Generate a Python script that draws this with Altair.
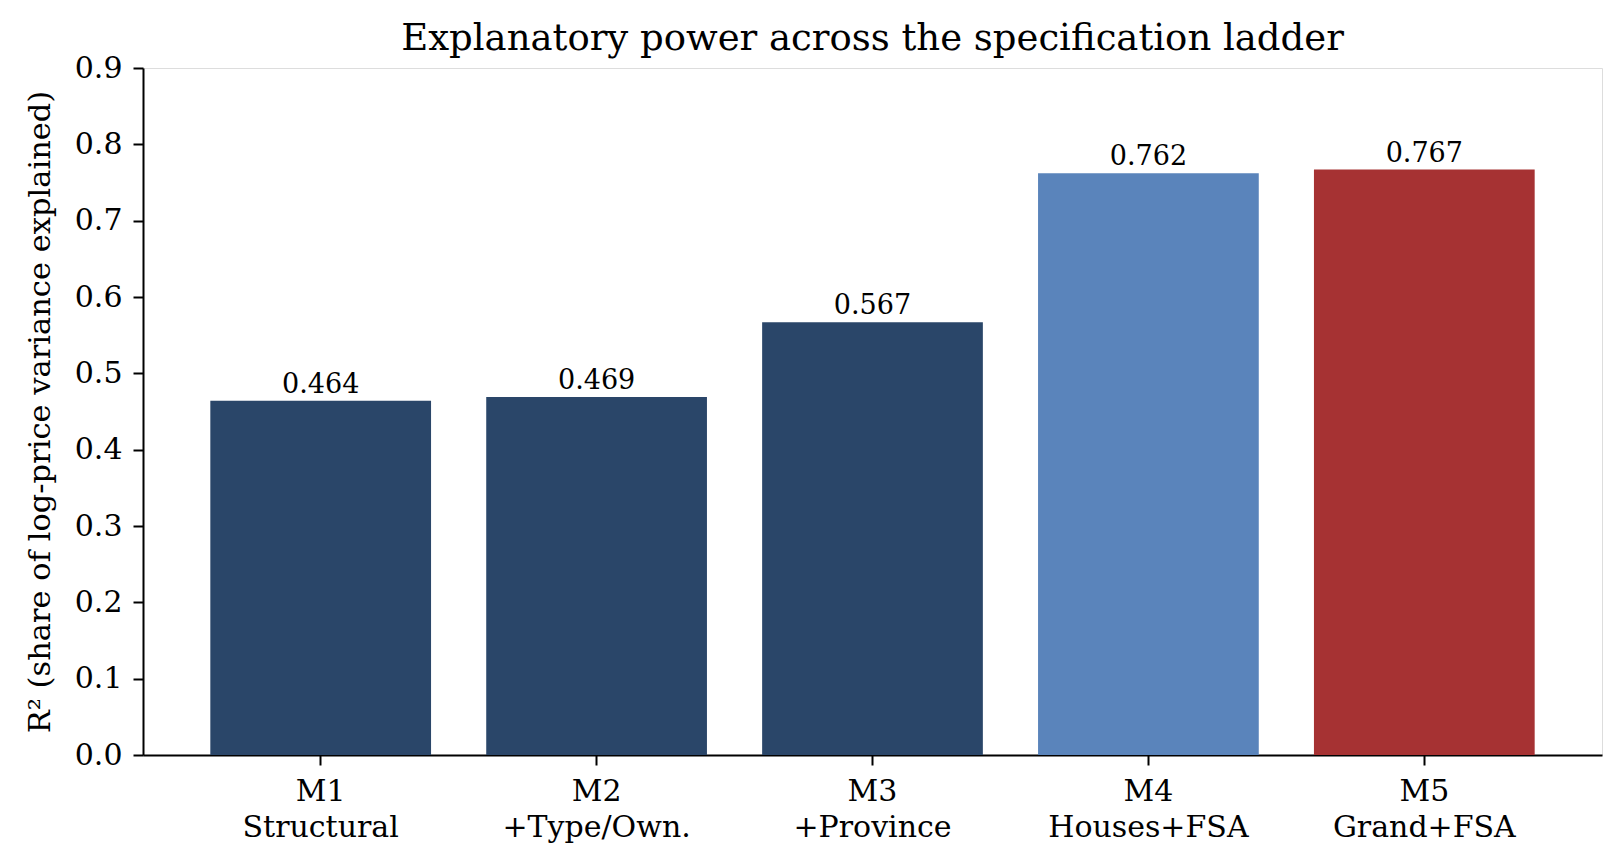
import altair as alt
import pandas as pd

title_text = "Explanatory power across the specification ladder"
models = ["M1\nStructural", "M2\n+Type/Own.", "M3\n+Province", "M4\nHouses+FSA", "M5\nGrand+FSA"]
r2 = [0.464, 0.469, 0.567, 0.762, 0.767]
colors = ["#2a4669", "#2a4669", "#2a4669", "#5a84bb", "#a63233"]
labels = ["0.464", "0.469", "0.567", "0.762", "0.767"]

df = pd.DataFrame({"model": models, "r2": r2, "color": colors, "label": labels})

FONT = "DejaVu Serif"
W, H = 1459, 687

x = alt.X(
    "model:N",
    sort=models,
    title=None,
    scale=alt.Scale(paddingInner=0.2, paddingOuter=0.244),
    axis=alt.Axis(
        labelExpr="split(datum.label, '\\n')",
        labelAngle=0,
        labelFontSize=30,
        labelFont=FONT,
        labelColor="black",
        labelLineHeight=36,
        labelPadding=11,
        labelBaseline="top",
        labelLimit=0,
        tickSize=10,
        tickWidth=2,
        tickColor="black",
        domainColor="black",
        domainWidth=2,
        grid=False,
    ),
)

y = alt.Y(
    "r2:Q",
    title="R² (share of log-price variance explained)",
    scale=alt.Scale(domain=[0, 0.9], nice=False),
    axis=alt.Axis(
        values=[0, 0.1, 0.2, 0.3, 0.4, 0.5, 0.6, 0.7, 0.8, 0.9],
        format=".1f",
        labelFontSize=30,
        labelFont=FONT,
        labelColor="black",
        labelPadding=11,
        tickSize=10,
        tickWidth=2,
        tickColor="black",
        domainColor="black",
        domainWidth=2,
        grid=False,
        titleFont=FONT,
        titleFontSize=30.5,
        titleFontWeight="normal",
        titleColor="black",
        titleAngle=-90,
        titleAlign="center",
        titleBaseline="middle",
        titleX=-103,
        titleY=H / 2,
    ),
)

bars = alt.Chart(df).mark_bar().encode(
    x=x,
    y=y,
    color=alt.Color("color:N", scale=None, legend=None),
)

text = alt.Chart(df).mark_text(
    font=FONT, fontSize=27, baseline="alphabetic", dy=-8, color="black"
).encode(
    x=alt.X("model:N", sort=models),
    y=alt.Y("r2:Q"),
    text="label:N",
)

title_mark = alt.Chart(pd.DataFrame({"t": [title_text]})).mark_text(
    font=FONT, fontSize=37, baseline="alphabetic", align="center", color="black"
).encode(
    x=alt.value(W / 2),
    y=alt.value(-18),
    text="t:N",
)

chart = (
    alt.layer(bars, text, title_mark)
    .properties(
        width=W,
        height=H,
        autosize=alt.AutoSizeParams(type="none"),
        padding={"left": 135, "top": 60, "right": 8, "bottom": 95},
    )
    .configure_view(stroke="transparent", strokeWidth=0)
    .configure(background="white")
)

chart.save("out.html", embed_options={"renderer": "svg", "actions": False})
